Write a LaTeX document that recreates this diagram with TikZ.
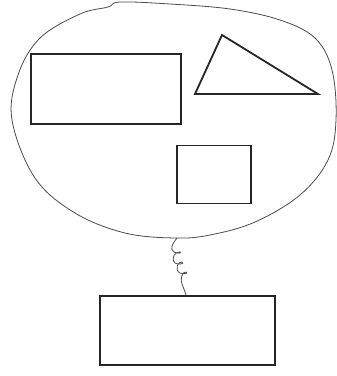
\documentclass[tikz,border=0pt]{standalone}
\begin{document}
\begin{tikzpicture}[x=1pt,y=-1pt,
  shapebox/.style={draw=black!85, line width=1.8pt, inner sep=0pt, fill=white},
  outline/.style={draw=black!70, line width=0.8pt},
  coil/.style={draw=black!70, line width=0.8pt}]
\useasboundingbox[fill=white] (0,0) rectangle (337,376);
% blob
\draw[outline] plot[smooth cycle, tension=0.6] coordinates {
  (120,2) (170,4) (230,9) (280,20) (315,38) (332,70) (336,120) (328,160)
  (300,195) (255,222) (210,235) (175,238) (125,233) (75,213) (35,178)
  (12,120) (18,75) (40,38) (80,14) (108,7)};
\coordinate (bb) at (177,238);
% shapes inside
\node[shapebox, minimum width=150pt, minimum height=70pt] (r1) at (106,89) {};
\coordinate (t1) at (222,35);
\coordinate (t2) at (195,94);
\coordinate (t3) at (318,94);
\draw[shapebox, line join=miter, fill=none] (t1) -- (t2) -- (t3) -- cycle;
\node[shapebox, minimum width=74pt, minimum height=58pt] (r2) at (214,174.5) {};
% bottom box
\node[shapebox, minimum width=175pt, minimum height=69pt] (r3) at (187.5,330.5) {};
% coil
\draw[coil] (bb) .. controls (173,243) and (169,249) .. (174,252)
  .. controls (178,254) and (182,253) .. (180,252)
  .. controls (176,251) and (170,258) .. (175,263)
  .. controls (178,265) and (185,264) .. (182,262)
  .. controls (178,261) and (174,270) .. (180,273)
  .. controls (183,274) and (189,274) .. (186,272)
  .. controls (182,271) and (180,280) .. (182,284)
  .. controls (184,289) and (185,292) .. (r3.north -| 186,0);
\end{tikzpicture}
\end{document}
